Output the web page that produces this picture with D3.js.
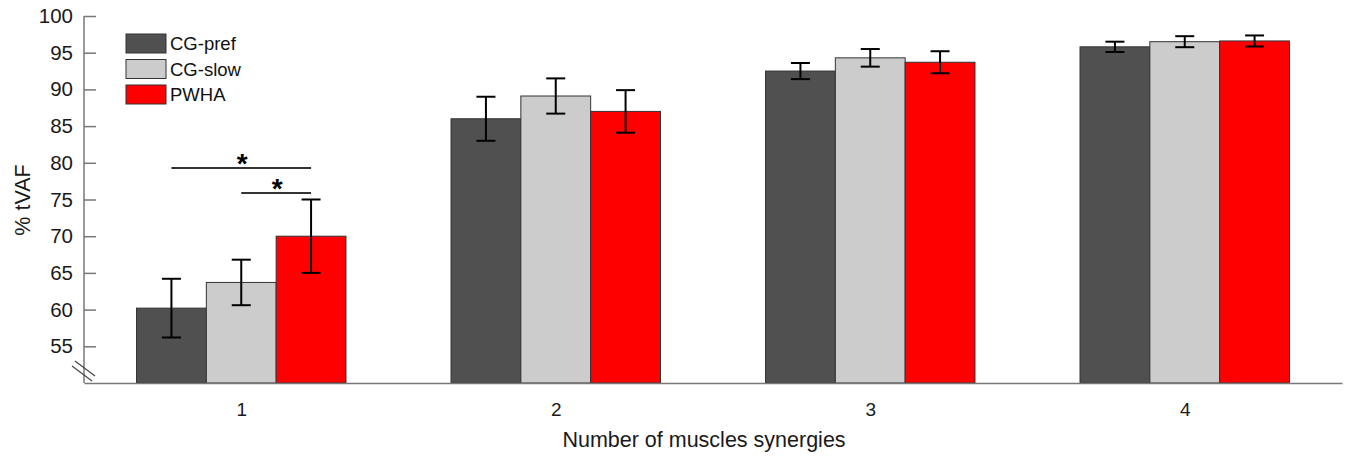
<!DOCTYPE html>
<html>
<head>
<meta charset="utf-8">
<script src="https://cdn.jsdelivr.net/npm/d3@7"></script>
<style>
  body { margin: 0; background: #fff; }
  text { font-family: "Liberation Sans", Arial, sans-serif; }
</style>
</head>
<body>
<div id="chart"></div>
<script>
const synergies = [1, 2, 3, 4];
const groups = ["CG-pref", "CG-slow", "PWHA"];
const colors = ["#505050", "#cccccc", "#ff0000"];

// mean and error per group, one value per synergy count
const cgPref = [60.2, 86.0, 92.5, 95.8];
const cgPrefErr = [4.0, 3.0, 1.1, 0.7];
const cgSlow = [63.7, 89.1, 94.3, 96.5];
const cgSlowErr = [3.1, 2.4, 1.2, 0.75];
const pwha = [70.0, 87.0, 93.7, 96.6];
const pwhaErr = [5.0, 2.9, 1.5, 0.75];

const yTicks = [55, 60, 65, 70, 75, 80, 85, 90, 95, 100];

// significance bars in group 1: [from group, to group, level]
const sigBars = [[0, 2, 79.3], [1, 2, 75.9]];

const width = 1346, height = 456;
const svg = d3.select("#chart").append("svg")
    .attr("width", width)
    .attr("height", height);

const x = d3.scaleLinear().domain([0.5, 4.5]).range([84, 1342]);
const y = d3.scaleLinear().domain([50, 100]).range([383, 16]);
const barW = 0.222;

const means = [cgPref, cgSlow, pwha];
const errs = [cgPrefErr, cgSlowErr, pwhaErr];

let bars = [];
synergies.forEach((s, i) => {
    groups.forEach((g, j) => {
        bars.push({s: s, j: j, v: means[j][i], e: errs[j][i]});
    });
});

const cx = d => x(d.s + (d.j - 1) * barW);

svg.selectAll("rect.bar")
    .data(bars)
    .enter()
    .append("rect")
    .attr("class", "bar")
    .attr("x", d => x(d.s + (d.j - 1.5) * barW))
    .attr("width", x(barW) - x(0))
    .attr("y", d => y(d.v))
    .attr("height", d => y(50) - y(d.v))
    .style("fill", d => colors[d.j])
    .style("stroke", "#333")
    .style("stroke-width", 1);

// error bars
const eb = svg.append("g").style("stroke", "#000").style("stroke-width", 2);
bars.forEach(d => {
    eb.append("line").attr("x1", cx(d)).attr("x2", cx(d))
        .attr("y1", y(d.v - d.e)).attr("y2", y(d.v + d.e));
    [d.v - d.e, d.v + d.e].forEach(v => {
        eb.append("line").attr("x1", cx(d) - 9.5).attr("x2", cx(d) + 9.5)
            .attr("y1", y(v)).attr("y2", y(v));
    });
});

// significance
sigBars.forEach(b => {
    const x1 = x(1 + (b[0] - 1) * barW), x2 = x(1 + (b[1] - 1) * barW);
    svg.append("line")
        .attr("x1", x1).attr("x2", x2)
        .attr("y1", y(b[2])).attr("y2", y(b[2]))
        .style("stroke", "#333").style("stroke-width", 2);
    svg.append("text")
        .attr("x", (x1 + x2) / 2 + 1).attr("y", y(b[2]) + 5)
        .attr("text-anchor", "middle")
        .style("font-size", "28px").style("font-weight", "bold")
        .text("*");
});

// axes
const axisColor = "#777";
const yAxis = svg.append("g")
    .attr("transform", "translate(84,0)")
    .call(d3.axisRight(y).tickValues(yTicks).tickSize(12).tickFormat(d3.format("d")));
yAxis.select(".domain").remove();
yAxis.selectAll("line").style("stroke", axisColor).style("stroke-width", 1.5);
yAxis.selectAll("text")
    .attr("x", -11)
    .style("text-anchor", "end")
    .style("font-size", "20.5px")
    .style("fill", "#1a1a1a");
svg.append("line").attr("x1", 84).attr("x2", 84).attr("y1", y(100)).attr("y2", y(50))
    .style("stroke", axisColor).style("stroke-width", 1.5);

const xAxis = svg.append("g")
    .attr("transform", "translate(0,383)")
    .call(d3.axisBottom(x).tickValues(synergies).tickSize(0).tickPadding(20)
        .tickFormat(d3.format("d")));
xAxis.select(".domain").style("stroke", axisColor).style("stroke-width", 1.5);
xAxis.selectAll("text").style("font-size", "19px").style("fill", "#1a1a1a");

// axis break marks
[[75, 361, 95, 376], [72, 366, 92, 381]].forEach(l => {
    svg.append("line").attr("x1", l[0]).attr("y1", l[1]).attr("x2", l[2]).attr("y2", l[3])
        .style("stroke", "#444").style("stroke-width", 1.2);
});

// axis titles
svg.append("text")
    .attr("x", 704).attr("y", 447)
    .attr("text-anchor", "middle")
    .style("font-size", "21.5px").style("fill", "#1a1a1a")
    .text("Number of muscles synergies");
svg.append("text")
    .attr("transform", "translate(30,200) rotate(-90)")
    .attr("text-anchor", "middle")
    .style("font-size", "21.5px").style("fill", "#1a1a1a")
    .text("% tVAF");

// legend
const legend = svg.append("g").attr("transform", "translate(126,34)");
groups.forEach((g, j) => {
    legend.append("rect")
        .attr("x", 0).attr("y", j * 25.5)
        .attr("width", 40).attr("height", 19)
        .style("fill", colors[j]).style("stroke", "#333");
    legend.append("text")
        .attr("x", 44).attr("y", j * 25.5 + 16)
        .style("font-size", "18.5px").style("fill", "#111")
        .text(g);
});
</script>
</body>
</html>
